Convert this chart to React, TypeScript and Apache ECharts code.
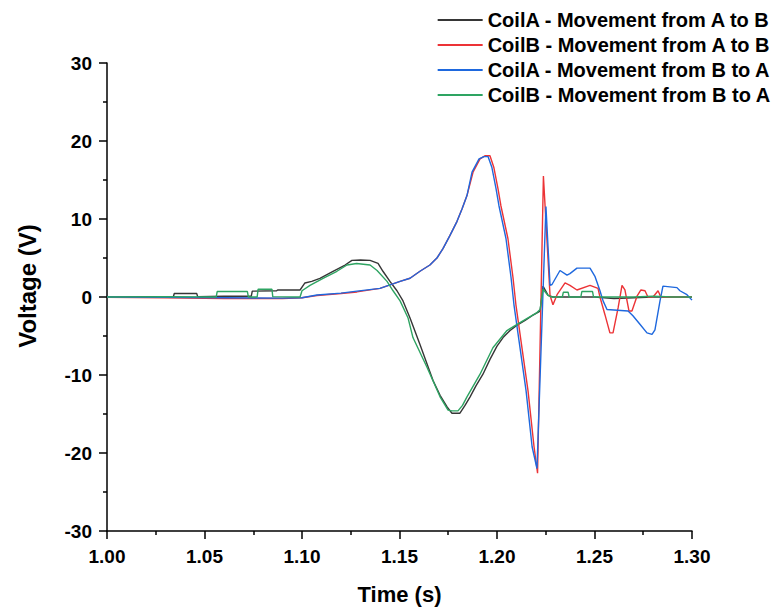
import React, { useEffect, useRef } from "react";
import * as echarts from "echarts";

const FONT = "'Liberation Sans', Arial, sans-serif";

const seriesNames = [
  "CoilA - Movement from A to B",
  "CoilB - Movement from A to B",
  "CoilA - Movement from B to A",
  "CoilB - Movement from B to A",
];
const seriesColors = ["#363636", "#ec3336", "#1e68de", "#2ea462"];

// CoilA - Movement from A to B (black)
const coilA_AB_t = [1.0, 1.02, 1.034, 1.0345, 1.046, 1.0465, 1.06, 1.074, 1.0745, 1.087, 1.0875, 1.099, 1.1015, 1.105, 1.1092, 1.1159, 1.1221, 1.1256, 1.13, 1.1349, 1.139, 1.1415, 1.1451, 1.1487, 1.1518, 1.1554, 1.1605, 1.1672, 1.1708, 1.1744, 1.1769, 1.181, 1.1836, 1.1862, 1.1892, 1.1928, 1.1964, 1.2, 1.2031, 1.2067, 1.2103, 1.2144, 1.218, 1.2221, 1.2236, 1.2262, 1.2287, 1.24, 1.25, 1.26, 1.27, 1.28, 1.29, 1.3];
const coilA_AB_v = [0.0, 0.05, 0.0, 0.45, 0.45, 0.05, 0.1, 0.1, 0.75, 0.8, 0.9, 0.9, 1.8, 2.0, 2.4, 3.3, 4.1, 4.7, 4.75, 4.7, 4.3, 3.3, 2.0, 0.8, -0.5, -2.7, -6.1, -10.7, -12.6, -14.1, -14.9, -14.9, -13.9, -12.8, -11.4, -9.9, -8.0, -6.3, -5.2, -4.3, -3.6, -3.0, -2.4, -1.8, 1.4, 0.2, 0.0, 0.0, 0.0, -0.2, -0.1, 0.0, 0.0, 0.0];

// CoilB - Movement from A to B (red)
const coilB_AB_t = [1.0, 1.03, 1.06, 1.09, 1.1, 1.1077, 1.12, 1.1282, 1.14, 1.1503, 1.1554, 1.1605, 1.1656, 1.1692, 1.1723, 1.1759, 1.1795, 1.1821, 1.1846, 1.1877, 1.1913, 1.1938, 1.1964, 1.1984, 1.2005, 1.202, 1.2056, 1.2082, 1.2097, 1.2159, 1.219, 1.2208, 1.2238, 1.2272, 1.2287, 1.2308, 1.2349, 1.2374, 1.241, 1.2477, 1.2518, 1.2528, 1.2554, 1.2579, 1.2595, 1.2621, 1.2641, 1.2656, 1.2677, 1.2692, 1.2718, 1.2738, 1.2759, 1.2774, 1.28, 1.2826, 1.284, 1.29, 1.3];
const coilB_AB_v = [-0.05, -0.1, -0.2, -0.2, -0.1, 0.2, 0.45, 0.65, 1.1, 2.0, 2.4, 3.3, 4.1, 5.0, 6.2, 7.9, 9.7, 11.3, 13.0, 16.0, 17.7, 18.1, 18.1, 16.6, 13.9, 11.7, 7.5, 2.5, -1.0, -12.0, -19.2, -22.6, 15.5, 0.2, -1.0, 0.3, 1.8, 1.5, 0.9, 1.5, 1.1, 0.0, -2.3, -4.6, -4.6, -1.4, 1.5, 0.9, -1.8, -1.8, 0.1, 0.9, 0.8, 0.0, 0.0, 0.8, 0.0, 0.0, 0.0];

// CoilA - Movement from B to A (blue)
const coilA_BA_t = [1.0, 1.03, 1.06, 1.09, 1.1, 1.1077, 1.12, 1.1282, 1.14, 1.1503, 1.1554, 1.1605, 1.1656, 1.1692, 1.1723, 1.1759, 1.1795, 1.1821, 1.1846, 1.1872, 1.1908, 1.1933, 1.1954, 1.1974, 1.1995, 1.201, 1.2046, 1.2072, 1.2087, 1.2149, 1.218, 1.2205, 1.2251, 1.2272, 1.2282, 1.2323, 1.2359, 1.2374, 1.241, 1.2477, 1.2503, 1.2528, 1.2544, 1.2564, 1.2672, 1.2697, 1.2733, 1.2769, 1.2795, 1.281, 1.2836, 1.2851, 1.2923, 1.2938, 1.2974, 1.3];
const coilA_BA_v = [0.0, -0.05, -0.1, -0.15, -0.1, 0.25, 0.5, 0.76, 1.1, 2.0, 2.4, 3.3, 4.1, 5.0, 6.2, 7.9, 9.7, 11.3, 13.0, 16.0, 17.7, 18.0, 18.0, 16.6, 13.9, 11.7, 7.5, 2.5, -1.0, -12.0, -19.2, -22.0, 11.6, 1.5, 1.6, 3.4, 2.8, 3.0, 3.7, 3.7, 2.6, 0.8, -0.5, -1.6, -1.8, -2.4, -3.5, -4.6, -4.8, -4.2, -0.5, 1.4, 1.2, 0.8, 0.3, -0.4];

// CoilB - Movement from B to A (green)
const coilB_BA_t = [1.0, 1.03, 1.056, 1.0565, 1.072, 1.0725, 1.077, 1.0775, 1.0846, 1.085, 1.099, 1.1, 1.1041, 1.1108, 1.1179, 1.1231, 1.128, 1.1349, 1.1385, 1.1436, 1.1467, 1.1503, 1.1544, 1.1569, 1.1641, 1.1708, 1.1749, 1.1769, 1.18, 1.1823, 1.1846, 1.1913, 1.1979, 1.2051, 1.2133, 1.2205, 1.2221, 1.2236, 1.2262, 1.228, 1.2335, 1.234, 1.2365, 1.237, 1.243, 1.2435, 1.249, 1.2495, 1.26, 1.27, 1.28, 1.29, 1.3];
const coilB_BA_v = [0.0, 0.05, 0.0, 0.7, 0.7, 0.0, 0.0, 1.0, 1.0, 0.05, 0.0, 0.8, 1.5, 2.4, 3.3, 4.1, 4.3, 4.1, 3.4, 2.0, 0.8, -0.5, -2.7, -5.2, -9.0, -12.8, -14.5, -14.6, -14.6, -13.9, -12.8, -9.9, -6.5, -4.3, -3.05, -2.0, -1.6, 1.0, 0.2, 0.0, 0.0, 0.6, 0.6, 0.0, 0.0, 0.7, 0.7, 0.0, 0.0, 0.0, 0.1, 0.0, 0.0];

const seriesTimes = [coilA_AB_t, coilB_AB_t, coilA_BA_t, coilB_BA_t];
const seriesValues = [coilA_AB_v, coilB_AB_v, coilA_BA_v, coilB_BA_v];

const xTickMin = 1.0;
const xTickMax = 1.3;
const xTickStep = 0.05;
const yTickMin = -30;
const yTickMax = 30;
const yTickStep = 10;

export default function App() {
  const ref = useRef<HTMLDivElement>(null);
  useEffect(() => {
    if (!ref.current) return;
    const chart = echarts.init(ref.current, null, { renderer: "svg" });
    const axisText = { fontFamily: FONT, fontWeight: "bold", fontSize: 19, color: "#000" };
    const lineStyle = { color: "#000", width: 1.5 };
    chart.setOption({
      animation: false,
      backgroundColor: "#fff",
      grid: { left: 107, right: 82, top: 63, bottom: 75 },
      legend: {
        orient: "vertical",
        right: 3,
        top: 10,
        padding: 0,
        itemWidth: 45,
        itemHeight: 2,
        itemGap: 5,
        icon: "rect",
        data: seriesNames,
        textStyle: { fontFamily: FONT, fontWeight: "bold", fontSize: 20, color: "#000" },
      },
      xAxis: {
        type: "value",
        min: xTickMin,
        max: xTickMax,
        interval: xTickStep,
        name: "Time (s)",
        nameLocation: "middle",
        nameGap: 52,
        nameTextStyle: { fontFamily: FONT, fontWeight: "bold", fontSize: 22, color: "#000" },
        axisLine: { onZero: false, lineStyle },
        axisTick: { length: 8, lineStyle },
        minorTick: { show: true, splitNumber: 2, length: 4, lineStyle },
        splitLine: { show: false },
        axisLabel: { ...axisText, margin: 16, formatter: (v: number) => v.toFixed(2) },
      },
      yAxis: {
        type: "value",
        min: yTickMin,
        max: yTickMax,
        interval: yTickStep,
        name: "Voltage (V)",
        nameLocation: "middle",
        nameGap: 68,
        nameTextStyle: {
          fontFamily: FONT,
          fontWeight: "bold",
          fontSize: 24,
          color: "#000",
          padding: [0, 0, 0, 22],
        },
        axisLine: { show: true, onZero: false, lineStyle },
        axisTick: { show: true, length: 8, lineStyle },
        minorTick: { show: true, splitNumber: 2, length: 4, lineStyle },
        splitLine: { show: false },
        axisLabel: { ...axisText, margin: 15 },
      },
      series: seriesNames.map((name, i) => ({
        name,
        type: "line",
        showSymbol: false,
        symbol: "none",
        color: seriesColors[i],
        lineStyle: { width: 1.4, color: seriesColors[i] },
        data: seriesTimes[i].map((t, j) => [t, seriesValues[i][j]]),
      })),
    });
    return () => chart.dispose();
  }, []);
  return (
    <div
      ref={ref}
      style={{ position: "fixed", left: 0, top: 0, width: 774, height: 610 }}
    />
  );
}
